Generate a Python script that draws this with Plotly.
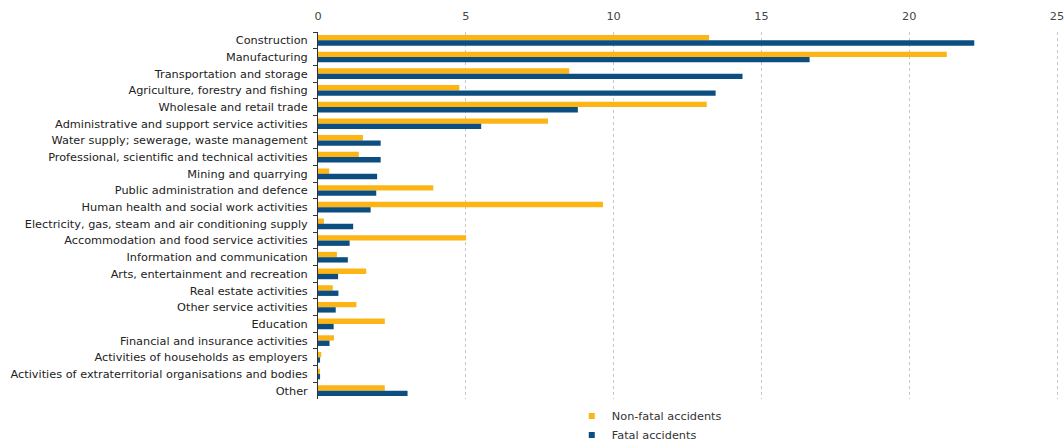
import plotly.graph_objects as go

categories = [
    "Construction",
    "Manufacturing",
    "Transportation and storage",
    "Agriculture, forestry and fishing",
    "Wholesale and retail trade",
    "Administrative and support service activities",
    "Water supply; sewerage, waste management",
    "Professional, scientific and technical activities",
    "Mining and quarrying",
    "Public administration and defence",
    "Human health and social work activities",
    "Electricity, gas, steam and air conditioning supply",
    "Accommodation and food service activities",
    "Information and communication",
    "Arts, entertainment and recreation",
    "Real estate activities",
    "Other service activities",
    "Education",
    "Financial and insurance activities",
    "Activities of households as employers",
    "Activities of extraterritorial organisations and bodies",
    "Other",
]

non_fatal = [13.23, 21.27, 8.5, 4.78, 13.15, 7.78, 1.52, 1.38, 0.38, 3.9, 9.64,
             0.2, 5.01, 0.64, 1.63, 0.5, 1.3, 2.26, 0.54, 0.11, 0.05, 2.26]
fatal = [22.2, 16.63, 14.36, 13.45, 8.79, 5.52, 2.12, 2.12, 2.0, 1.97, 1.78,
         1.19, 1.07, 1.01, 0.68, 0.69, 0.6, 0.53, 0.39, 0.07, 0.07, 3.03]

series_names = ["Non-fatal accidents", "Fatal accidents"]
x_ticks = [0, 5, 10, 15, 20, 25]

c_nonfatal = "#FDB515"
c_fatal = "#0C4E80"

FONT = "DejaVu Sans, Verdana, sans-serif"
FS = 11.3

fig = go.Figure()
fig.add_trace(go.Bar(y=categories, x=non_fatal, orientation="h", name=series_names[0],
                     marker=dict(color=c_nonfatal, line=dict(width=0)), showlegend=False))
fig.add_trace(go.Bar(y=categories, x=fatal, orientation="h", name=series_names[1],
                     marker=dict(color=c_fatal, line=dict(width=0)), showlegend=False))

# legend-only entries with small square symbols
for name, col in zip(series_names, [c_nonfatal, c_fatal]):
    fig.add_trace(go.Scatter(x=[None], y=[None], mode="markers", name=name,
                             marker=dict(symbol="square", size=6, color=col)))

fig.update_layout(
    width=1064, height=441,
    margin=dict(l=318, r=3.5, t=32, b=42, autoexpand=False),
    paper_bgcolor="white", plot_bgcolor="white",
    barmode="group", bargap=0.36, bargroupgap=0,
    font=dict(family=FONT, size=FS, color="#333333"),
    showlegend=True,
    legend=dict(orientation="v", x=0.342, xanchor="left", y=-0.007, yanchor="top",
                traceorder="normal", font=dict(family=FONT, size=FS, color="#333333"),
                itemwidth=30, tracegroupgap=0, bgcolor="rgba(0,0,0,0)"),
)

fig.update_xaxes(
    side="top", range=[0, 25.1], tickvals=x_ticks, ticktext=[str(v) for v in x_ticks],
    showgrid=True, gridcolor="#c8c8c8", griddash="dot", gridwidth=1,
    zeroline=False, showline=False, ticklabeloverflow="allow",
    ticks="outside", ticklen=4, tickcolor="rgba(0,0,0,0)", ticklabelstandoff=2,
    tickfont=dict(family=FONT, size=FS, color="#444444"),
)
fig.update_yaxes(
    autorange="reversed", type="category",
    showline=True, linecolor="#333333", linewidth=1,
    ticks="outside", ticklen=4, tickcolor="#333333", tickson="boundaries",
    showgrid=False, zeroline=False,
    tickfont=dict(family=FONT, size=FS, color="#222222"), ticklabelstandoff=7,
)

# remove the browser's default body margin so the 1064x441 figure fills the window exactly
fig.write_html(
    "out.html",
    config={"displayModeBar": False},
    post_script="document.body.style.margin='0';document.body.style.overflow='hidden';",
)
